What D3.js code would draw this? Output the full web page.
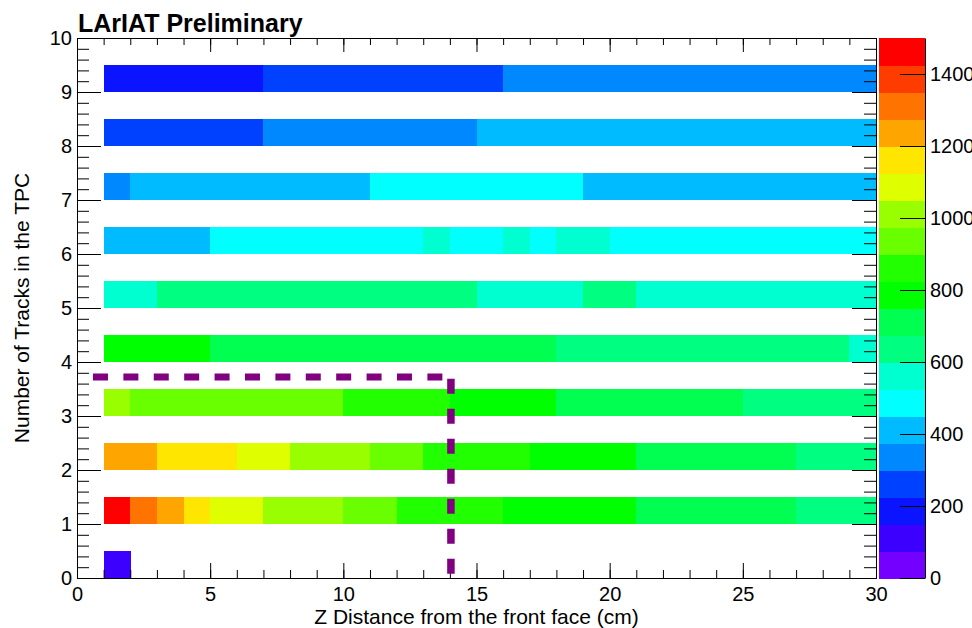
<!DOCTYPE html>
<html>
<head>
<meta charset="utf-8">
<script src="https://cdn.jsdelivr.net/npm/d3@7"></script>
<style>
  body { margin: 0; background: #fff; }
  svg { font-family: "Liberation Sans", Arial, Helvetica, sans-serif; }
</style>
</head>
<body>
<svg id="graph"></svg>
<script>
// bin counts per track-multiplicity row, x bins of 1 cm starting at z = 1
const row0 = [120];
const row1 = [1470,1320,1230,1150,1100,1065,1030,1005,985,950,920,890,870,855,835,815,805,790,775,760,745,732,720,708,695,682,668,652,636];
const row2 = [1255,1210,1185,1160,1135,1110,1070,1040,1010,985,960,920,895,880,865,845,820,800,785,765,745,730,715,700,690,680,665,650,635];
const row3 = [990,965,955,948,942,935,928,918,908,895,880,868,850,820,805,790,775,745,735,725,715,705,695,680,670,660,650,640,630];
const row4 = [815,805,790,770,745,740,735,730,726,722,718,714,708,702,696,690,684,672,666,660,655,650,645,640,634,626,618,610,592];
const row5 = [560,590,612,625,636,645,652,658,662,664,660,652,640,612,596,590,586,594,604,602,596,590,582,576,570,564,558,550,542];
const row6 = [400,418,432,444,460,472,484,494,502,510,516,520,530,522,518,528,521,527,531,520,516,512,506,500,494,488,480,472,465];
const row7 = [365,385,395,405,412,420,428,434,440,446,456,466,476,486,494,500,492,480,446,440,434,428,422,416,410,404,398,392,386];
const row8 = [238,246,254,262,270,285,305,315,325,335,345,352,360,368,380,388,395,402,408,414,420,425,430,434,438,441,444,446,448];
const row9 = [160,170,178,186,195,210,232,240,248,255,262,270,278,285,292,305,312,318,325,330,335,340,345,350,355,358,362,366,370];
const rows = [row0, row1, row2, row3, row4, row5, row6, row7, row8, row9];

const xFirstBin = 1;
const binWidthX = 1;
const binHeightY = 0.5;

// ROOT-like 20 level palette, low -> high
const palette = ["#7400ff","#3c00ff","#0a14ff","#0040ff","#0088ff","#00bbff","#00ffff","#00ffd0",
                 "#00ff80","#00ff50","#00ff00","#22ff00","#6aff00","#99ff00","#dfff00","#ffe600",
                 "#ffa500","#ff7300","#ff3c00","#ff0000"];
const zMax = 1500;
const zTicks = [0, 200, 400, 600, 800, 1000, 1200, 1400];

const xMajor = [0, 5, 10, 15, 20, 25, 30];
const yMajor = [0, 1, 2, 3, 4, 5, 6, 7, 8, 9, 10];

// dashed selection box (cm, tracks)
const cutLineH = { x0: 0.6, x1: 13.73, y: 3.72 };
const cutLineV = { x: 14.04, y0: 3.69, y1: 0 };

const width = 972, height = 628;
const margin = { left: 77, right: 96, top: 38, bottom: 50 };

const svg = d3.select("#graph").attr("width", width).attr("height", height);
svg.append("rect").attr("width", width).attr("height", height).attr("fill", "#fff");

const xScale = d3.scaleLinear().domain([0, 30]).range([margin.left, width - margin.right]);
const yScale = d3.scaleLinear().domain([0, 10]).range([height - margin.bottom, margin.top]);
const colorScale = d3.scaleQuantize().domain([0, zMax]).range(palette);

// bins
const cells = [];
rows.forEach((vals, r) => {
  vals.forEach((v, i) => {
    if (v > 0) cells.push({ x: xFirstBin + i * binWidthX, y: r, v: v });
  });
});

svg.append("g").attr("shape-rendering", "crispEdges")
  .selectAll("rect")
  .data(cells)
  .join("rect")
  .attr("x", d => xScale(d.x))
  .attr("y", d => yScale(d.y + binHeightY))
  .attr("width", d => xScale(d.x + binWidthX) - xScale(d.x) + 0.5)
  .attr("height", d => yScale(d.y) - yScale(d.y + binHeightY))
  .attr("fill", d => colorScale(d.v));

// axes, ROOT style: ticks inside the frame on all four sides
const x0 = yScale(0), yTop = yScale(10), xL = xScale(0), xR = xScale(30);
const tickFont = "20px";

const styleAxis = g => {
  g.selectAll("path").attr("stroke", "#000");
  g.selectAll("line").attr("stroke", "#000");
  g.selectAll("text").attr("fill", "#000").style("font-size", tickFont);
};

svg.append("g").attr("transform", `translate(0,${x0})`)
  .call(d3.axisBottom(xScale).tickValues(d3.range(0, 31, 1)).tickSize(-8).tickSizeOuter(0).tickFormat(""))
  .call(styleAxis);
svg.append("g").attr("transform", `translate(0,${x0})`)
  .call(d3.axisBottom(xScale).tickValues(xMajor).tickSize(-15).tickSizeOuter(0).tickPadding(9).tickFormat(d3.format("d")))
  .call(styleAxis);

svg.append("g").attr("transform", `translate(0,${yTop})`)
  .call(d3.axisTop(xScale).tickValues(d3.range(0, 31, 1)).tickSize(-7).tickSizeOuter(0).tickFormat(""))
  .call(styleAxis);
svg.append("g").attr("transform", `translate(0,${yTop})`)
  .call(d3.axisTop(xScale).tickValues(xMajor).tickSize(-14).tickSizeOuter(0).tickFormat(""))
  .call(styleAxis);

svg.append("g").attr("transform", `translate(${xL},0)`)
  .call(d3.axisLeft(yScale).tickValues(d3.range(0, 10.01, 0.2)).tickSize(-12).tickSizeOuter(0).tickFormat(""))
  .call(styleAxis);
svg.append("g").attr("transform", `translate(${xL},0)`)
  .call(d3.axisLeft(yScale).tickValues(yMajor).tickSize(-24).tickSizeOuter(0).tickPadding(5).tickFormat(d3.format("d")))
  .call(styleAxis);

svg.append("g").attr("transform", `translate(${xR},0)`)
  .call(d3.axisRight(yScale).tickValues(d3.range(0, 10.01, 0.2)).tickSize(-12).tickSizeOuter(0).tickFormat(""))
  .call(styleAxis);
svg.append("g").attr("transform", `translate(${xR},0)`)
  .call(d3.axisRight(yScale).tickValues(yMajor).tickSize(-24).tickSizeOuter(0).tickFormat(""))
  .call(styleAxis);

// dashed cut lines
const cutColor = "#800080";
svg.append("line")
  .attr("x1", xScale(cutLineH.x0)).attr("x2", xScale(cutLineH.x1))
  .attr("y1", yScale(cutLineH.y)).attr("y2", yScale(cutLineH.y))
  .attr("stroke", cutColor).attr("stroke-width", 7).attr("stroke-dasharray", "15,15.4");
svg.append("line")
  .attr("x1", xScale(cutLineV.x)).attr("x2", xScale(cutLineV.x))
  .attr("y1", yScale(cutLineV.y0)).attr("y2", yScale(cutLineV.y1))
  .attr("stroke", cutColor).attr("stroke-width", 7.5).attr("stroke-dasharray", "15,15");

// palette (colour bar)
const zScale = d3.scaleLinear().domain([0, zMax]).range([yScale(0), yScale(10)]);
const barX0 = 879, barX1 = 925;
const step = zMax / palette.length;
svg.append("g").attr("shape-rendering", "crispEdges")
  .selectAll("rect")
  .data(palette)
  .join("rect")
  .attr("x", barX0)
  .attr("width", barX1 - barX0)
  .attr("y", (c, i) => zScale((i + 1) * step))
  .attr("height", (c, i) => zScale(i * step) - zScale((i + 1) * step) + 0.5)
  .attr("fill", c => c);

svg.append("g").attr("transform", `translate(${barX1},0)`)
  .call(d3.axisRight(zScale).tickValues(zTicks).tickSize(-25).tickSizeOuter(0).tickPadding(5).tickFormat(d3.format("d")))
  .call(styleAxis);

// titles
svg.append("text")
  .attr("x", 78).attr("y", 32)
  .style("font-size", "25px").style("font-weight", "bold")
  .text("LArIAT Preliminary");

svg.append("text")
  .attr("x", (xL + xR) / 2).attr("y", 624)
  .attr("text-anchor", "middle")
  .style("font-size", "21px")
  .text("Z Distance from the front face (cm)");

svg.append("text")
  .attr("transform", `translate(29,${(x0 + yTop) / 2}) rotate(-90)`)
  .attr("text-anchor", "middle")
  .style("font-size", "21px")
  .text("Number of Tracks in the TPC");
</script>
</body>
</html>
